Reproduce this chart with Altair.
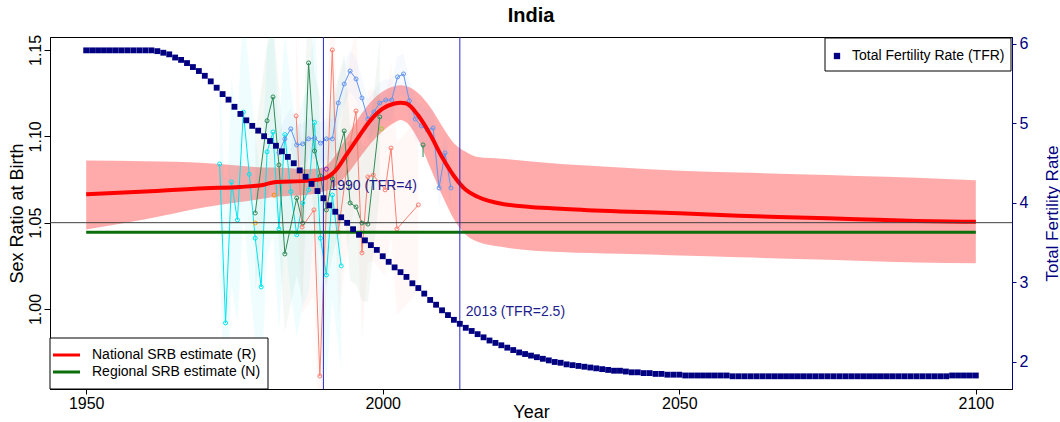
import altair as alt
import pandas as pd

FONT = "Liberation Sans"

# ---- Total fertility rate, annual 1950-2100 ----
tfr_years = list(range(1950, 2101))
tfr_values = [
    5.92, 5.92, 5.92, 5.92, 5.92, 5.92, 5.92, 5.92, 5.92, 5.92,   # 1950-1959
    5.92, 5.92, 5.91, 5.89, 5.87, 5.83, 5.80, 5.76, 5.71, 5.66,   # 1960-1969
    5.60, 5.53, 5.45, 5.37, 5.30, 5.21, 5.12, 5.04, 4.97, 4.91,   # 1970-1979
    4.84, 4.78, 4.72, 4.65, 4.58, 4.50, 4.41, 4.33, 4.24, 4.15,   # 1980-1989
    4.06, 3.97, 3.89, 3.82, 3.75, 3.67, 3.60, 3.53, 3.47, 3.41,   # 1990-1999
    3.33, 3.26, 3.19, 3.13, 3.07, 2.99, 2.93, 2.86, 2.78, 2.72,   # 2000-2009
    2.65, 2.59, 2.53, 2.48, 2.43, 2.39, 2.35, 2.31, 2.27, 2.24,   # 2010-2019
    2.21, 2.18, 2.15, 2.12, 2.10, 2.08, 2.06, 2.04, 2.02, 2.00,   # 2020-2029
    1.99, 1.97, 1.96, 1.95, 1.94, 1.93, 1.92, 1.91, 1.90, 1.89,   # 2030-2039
    1.89, 1.88, 1.87, 1.87, 1.86, 1.86, 1.85, 1.85, 1.84, 1.84,   # 2040-2049
    1.84, 1.83, 1.83, 1.83, 1.83, 1.83, 1.83, 1.83, 1.83, 1.82,   # 2050-2059
    1.82, 1.82, 1.82, 1.82, 1.82, 1.82, 1.82, 1.82, 1.82, 1.82,   # 2060-2069
    1.82, 1.82, 1.82, 1.82, 1.82, 1.82, 1.82, 1.82, 1.82, 1.82,   # 2070-2079
    1.82, 1.82, 1.82, 1.82, 1.82, 1.82, 1.82, 1.82, 1.82, 1.82,   # 2080-2089
    1.82, 1.82, 1.82, 1.82, 1.82, 1.82, 1.83, 1.83, 1.83, 1.83,   # 2090-2099
    1.83,                                                         # 2100
]

# ---- National SRB estimate (R) with its uncertainty band ----
nat_years = [1950, 1960, 1970, 1976, 1980, 1982, 1987, 1990, 1992, 1994,
             1996, 1998, 2000, 2002, 2003, 2004, 2006, 2008, 2010, 2012,
             2014, 2016, 2020, 2030, 2040, 2050, 2060, 2070, 2080, 2090, 2100]
nat_srb = [1.0665, 1.068, 1.070, 1.0707, 1.072, 1.0736, 1.0742, 1.0755, 1.080, 1.090,
           1.100, 1.1095, 1.116, 1.119, 1.1195, 1.119, 1.112, 1.101, 1.088, 1.077,
           1.069, 1.065, 1.061, 1.058, 1.0565, 1.0555, 1.054, 1.053, 1.052, 1.051, 1.0505]
nat_lower = [1.046, 1.052, 1.059, 1.062, 1.064, 1.065, 1.066, 1.068, 1.071, 1.078,
             1.087, 1.096, 1.103, 1.108, 1.1095, 1.108, 1.098, 1.082, 1.066, 1.052,
             1.043, 1.039, 1.036, 1.033, 1.032, 1.031, 1.030, 1.029, 1.028, 1.027, 1.0265]
nat_upper = [1.086, 1.0855, 1.0845, 1.083, 1.082, 1.082, 1.081, 1.082, 1.089, 1.100,
             1.111, 1.120, 1.126, 1.129, 1.1295, 1.129, 1.125, 1.117, 1.106, 1.096,
             1.091, 1.088, 1.087, 1.084, 1.082, 1.080, 1.079, 1.078, 1.077, 1.076, 1.0745]

# ---- Regional SRB estimate (N) ----
regional_srb = 1.0445
reference_srb = 1.05

# ---- Observed SRB series ----
cyan_years = [1972.5, 1973.5, 1974.5, 1975.5, 1976.5, 1977.5, 1978.5, 1979.5, 1980.5, 1981.5,
              1982.5, 1983.5, 1984.5, 1985.5, 1986.5, 1987.5, 1988.5, 1989.5, 1990.5, 1991.5, 1993.0]
cyan_srb = [1.084, 0.992, 1.0736, 1.0516, 1.114, 1.078, 1.041, 1.0128, 1.091, 1.1025,
            1.0464, 1.101, 1.068, 1.043, 1.0614, 1.069, 1.108, 1.041, 1.0197, 1.066, 1.025]

green_years = [1978.5, 1980.5, 1981.5, 1982.5, 1983.5, 1985.5, 1986.5, 1987.5, 1988.5, 1989.5,
               1990.5, 1991.5, 1993.5, 1994.5, 1995.5, 1996.5, 1997.5, 1999.5]
green_srb = [1.0556, 1.109, 1.1228, 1.0834, 1.0319, 1.0643, 1.0498, 1.1425, 1.0915, 1.077,
             1.0574, 1.0753, 1.1031, 1.0614, 1.0591, 1.0498, 1.0492, 1.1112]
green2_years = [2006.8, 2006.8]
green2_srb = [1.095, 1.088]

salmon_years = [1985.4, 1986.4, 1988.4, 1989.4, 1991.5, 1992.5, 1994.5, 1995.5, 1996.5, 1997.5,
                1998.4, 2000.4, 2001.4, 2002.4, 2006.0]
salmon_srb = [1.1118, 1.0475, 1.0574, 0.9612, 1.150, 1.0446, 1.0956, 1.1147, 1.0325, 1.0765,
              1.0776, 1.069, 1.0932, 1.0464, 1.0603]

blue_years = [1982.5, 1983.5, 1984.5, 1985.5, 1986.5, 1987.5, 1988.5, 1989.5, 1990.5, 1991.5,
              1992.5, 1993.5, 1994.5, 1995.5, 1996.5, 1997.5, 1998.5, 1999.5, 2000.5, 2001.5,
              2002.5, 2003.5, 2004.5, 2005.5, 2006.5, 2007.5, 2008.5, 2009.5, 2010.5, 2011.5]
blue_srb = [1.0904, 1.0985, 1.1043, 1.095, 1.0956, 1.0985, 1.099, 1.0961, 1.0985, 1.0985,
            1.1193, 1.1303, 1.1378, 1.1332, 1.1222, 1.11, 1.1141, 1.1193, 1.121, 1.121,
            1.1344, 1.1361, 1.1205, 1.11, 1.106, 1.1037, 1.1048, 1.0701, 1.0904, 1.0701]

single_years = [1981.7, 1978.5, 1990.5, 1999.8]
single_srb = [1.0659, 1.0498, 1.081, 1.1043]
single_colors = ["#FF8C00", "#FFA500", "#9932CC", "#9ACD32"]

# sampling half-widths of the observed series
series_halfwidth = {"cyan": 0.06, "green": 0.045, "salmon": 0.05, "blue": 0.012}
series_colors = {"cyan": "#00E5EE", "green": "#2E8B57", "salmon": "#FA8072", "blue": "#6495ED"}

NAVY = "#000080"
W, H = 962, 352

# ---- tables ----
def series_frame(name, years, vals):
    hw = series_halfwidth.get(name, 0)
    return pd.DataFrame({"year": years, "srb": vals, "series": name,
                         "lo": [v - hw for v in vals], "hi": [v + hw for v in vals]})

obs = pd.concat([
    series_frame("cyan", cyan_years, cyan_srb),
    series_frame("green", green_years, green_srb),
    series_frame("salmon", salmon_years, salmon_srb),
    series_frame("blue", blue_years, blue_srb),
], ignore_index=True)
green2 = pd.DataFrame({"year": green2_years, "srb": green2_srb})
singles = pd.DataFrame({"year": single_years, "srb": single_srb, "c": single_colors})
nat = pd.DataFrame({"year": nat_years, "srb": nat_srb, "lo": nat_lower, "hi": nat_upper})
tfr = pd.DataFrame({"year": tfr_years, "tfr": tfr_values})
reg = pd.DataFrame({"year": [1950, 2100], "srb": [regional_srb, regional_srb]})
vlines = pd.DataFrame({"year": [1990, 2013]})
tfr_lookup = dict(zip(tfr_years, tfr_values))
notes = pd.DataFrame({
    "year": [1990, 2013],
    "tfr": [tfr_lookup[1990], tfr_lookup[2013]],
    "label": ["1990 (TFR=4)", "2013 (TFR=2.5)"],
})
one = pd.DataFrame({"k": [0]})

# ---- scales / encodings ----
x_scale = alt.Scale(domain=[1943.9, 2106.1], nice=False, zero=False)
x_axis = alt.Axis(values=[1950, 2000, 2050, 2100], format="d", title="Year",
                  labelFontSize=16, titleFontSize=18, tickSize=5, labelPadding=1,
                  titleY=14, titleBaseline="top", titleX=W / 2, titleAlign="center",
                  labelFont=FONT, titleFont=FONT, titleFontWeight="normal",
                  labelColor="black", titleColor="black", domainColor="black",
                  tickColor="black", grid=False, labelFlush=False)
X = alt.X("year:Q", scale=x_scale, axis=x_axis)

srb_scale = alt.Scale(domain=[0.9537, 1.1575], nice=False, zero=False)
srb_axis = alt.Axis(values=[1.00, 1.05, 1.10, 1.15], format=".2f", title="Sex Ratio at Birth",
                    labelAngle=-90, labelAlign="center", labelBaseline="bottom",
                    labelFontSize=16, titleFontSize=18, tickSize=6, labelPadding=1,
                    titleAngle=270, titleBaseline="bottom", titleAlign="center",
                    titleX=-24, titleY=H / 2,
                    labelFont=FONT, titleFont=FONT, titleFontWeight="normal",
                    labelColor="black", titleColor="black", domainColor="black",
                    tickColor="black", grid=False, labelFlush=False)
Y = alt.Y("srb:Q", scale=srb_scale, axis=srb_axis)

tfr_scale = alt.Scale(domain=[1.66, 6.088], nice=False, zero=False)
tfr_axis = alt.Axis(orient="right", values=[2, 3, 4, 5, 6], format="d", title="Total Fertility Rate",
                    labelFontSize=16, titleFontSize=17, tickSize=4, labelPadding=3,
                    labelFont=FONT, titleFont=FONT, titleFontWeight="normal",
                    labelColor=NAVY, titleColor=NAVY, domainColor=NAVY, tickColor=NAVY,
                    titleAngle=270, titleBaseline="top", titleAlign="center",
                    titleX=32, titleY=H / 2, grid=False, labelFlush=False)

color_scale = alt.Scale(domain=list(series_colors), range=list(series_colors.values()))

# ---- SRB layers ----
obs_band = alt.Chart(obs).mark_area(opacity=0.06, interpolate="linear", clip=True).encode(
    x=X, y=alt.Y("lo:Q", scale=srb_scale, axis=srb_axis), y2="hi:Q",
    color=alt.Color("series:N", scale=color_scale, legend=None),
    detail="series:N",
)
obs_line = alt.Chart(obs).mark_line(strokeWidth=1, clip=True).encode(
    x=X, y=Y, color=alt.Color("series:N", scale=color_scale, legend=None), detail="series:N",
)
obs_pts = alt.Chart(obs).mark_point(filled=False, size=16, strokeWidth=1, opacity=1, clip=True).encode(
    x=X, y=Y, color=alt.Color("series:N", scale=color_scale, legend=None),
)
g2_line = alt.Chart(green2).mark_line(strokeWidth=1, color="#2E8B57").encode(x=X, y=Y)
g2_pt = alt.Chart(green2.head(1)).mark_point(filled=False, size=16, strokeWidth=1, color="#2E8B57", opacity=1).encode(x=X, y=Y)
singles_pts = alt.Chart(singles).mark_point(filled=False, size=16, strokeWidth=1, opacity=1).encode(
    x=X, y=Y, color=alt.Color("c:N", scale=None))

nat_band = alt.Chart(nat).mark_area(color="#FF0000", opacity=0.33, interpolate="monotone").encode(
    x=X, y=alt.Y("lo:Q", scale=srb_scale, axis=srb_axis), y2="hi:Q")
nat_line = alt.Chart(nat).mark_line(color="#FF0000", strokeWidth=4, interpolate="monotone").encode(x=X, y=Y)
reg_line = alt.Chart(reg).mark_line(color="#0B6E0B", strokeWidth=3).encode(x=X, y=Y)
ref_rule = alt.Chart(one).mark_rule(color="#404040", strokeWidth=1).encode(y=alt.datum(reference_srb, scale=srb_scale))
v_rules = alt.Chart(vlines).mark_rule(color="#2828C8", strokeWidth=1).encode(x=X)

# legend, lower left
leg_box = alt.Chart(one).mark_rect(fill="white", stroke="black", strokeWidth=1).encode(
    x=alt.value(0), x2=alt.value(218), y=alt.value(301), y2=alt.value(352))
leg_red = alt.Chart(one).mark_rule(color="#FF0000", strokeWidth=3).encode(
    x=alt.value(3), x2=alt.value(30), y=alt.value(318))
leg_green = alt.Chart(one).mark_rule(color="#0B6E0B", strokeWidth=3).encode(
    x=alt.value(3), x2=alt.value(30), y=alt.value(335))
leg_txt1 = alt.Chart(one).mark_text(text="National SRB estimate (R)", align="left", baseline="middle",
                                   fontSize=14, font=FONT, color="black").encode(x=alt.value(42), y=alt.value(318))
leg_txt2 = alt.Chart(one).mark_text(text="Regional SRB estimate (N)", align="left", baseline="middle",
                                   fontSize=14, font=FONT, color="black").encode(x=alt.value(42), y=alt.value(335))

srb_layer = alt.layer(nat_band, obs_band, obs_line, obs_pts, g2_line, g2_pt, singles_pts,
                      nat_line, reg_line, ref_rule, v_rules,
                      leg_box, leg_red, leg_green, leg_txt1, leg_txt2)

# ---- TFR layers ----
TY = alt.Y("tfr:Q", scale=tfr_scale, axis=tfr_axis)
tfr_pts = alt.Chart(tfr).mark_square(color=NAVY, size=34, opacity=1).encode(x=X, y=TY)
tfr_notes = alt.Chart(notes).mark_text(align="left", baseline="middle", dx=6, dy=-12,
                                      fontSize=14, font=FONT, color="#1C1C8C").encode(x=X, y=TY, text="label:N")
tleg_box = alt.Chart(one).mark_rect(fill="white", stroke="black", strokeWidth=1).encode(
    x=alt.value(775), x2=alt.value(961), y=alt.value(1), y2=alt.value(34))
tleg_sq = alt.Chart(one).mark_square(color=NAVY, size=40, opacity=1).encode(x=alt.value(787), y=alt.value(19))
tleg_txt = alt.Chart(one).mark_text(text="Total Fertility Rate (TFR)", align="left", baseline="middle",
                                   fontSize=14, font=FONT, color="black").encode(x=alt.value(802), y=alt.value(19))
tfr_layer = alt.layer(tfr_pts, tfr_notes, tleg_box, tleg_sq, tleg_txt)

chart = alt.layer(srb_layer, tfr_layer).resolve_scale(y="independent").properties(
    width=W, height=H,
    title=alt.TitleParams("India", fontSize=20, fontWeight="bold", font=FONT, anchor="middle", offset=8, color="black"),
    autosize=alt.AutoSizeParams(type="none"),
    padding={"left": 50, "top": 37, "right": 48, "bottom": 33},
    background="white",
).configure_view(stroke="black", strokeWidth=1)

chart.save("out.html", embed_options={"renderer": "svg", "actions": False})
